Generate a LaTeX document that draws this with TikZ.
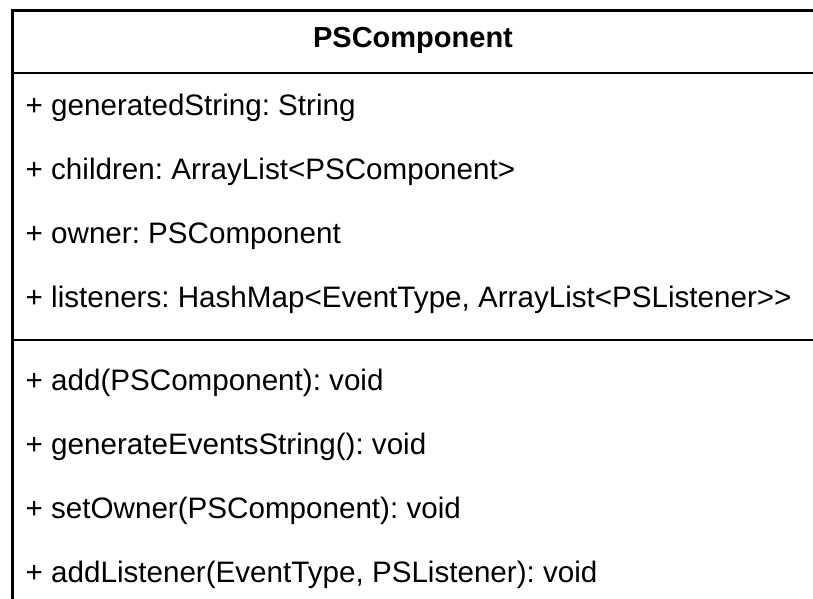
\documentclass[tikz,border=0pt]{standalone}
\usepackage{fontspec}
\setmainfont{Liberation Sans}
\frenchspacing
\begin{document}
\begin{tikzpicture}[x=1pt,y=-1pt,
  member/.style={anchor=base west,inner sep=0pt,font=\fontsize{29.6}{34}\selectfont},
  title/.style={anchor=base,inner sep=0pt,font=\fontsize{29}{34}\selectfont\bfseries},
  frame/.style={draw=black,line width=2.6pt}]
\useasboundingbox (0,0) rectangle (813,599);
\begin{scope}
\clip (0,0) rectangle (813,599);
% class box (continues past the right and bottom edges)
\draw[frame] (12.5,640) -- (12.5,10.5) -- (840,10.5);
\draw[frame] (12.5,73) -- (840,73);
\draw[frame] (12.5,340) -- (840,340);
\end{scope}
% class name
\node[title] (name) at (413,48) {PSComponent};
% attributes
\node[member] (a1) at (25.5,115) {+ generatedString: String};
\node[member] (a2) at (25.5,179) {+ children: ArrayList<PSComponent>};
\node[member] (a3) at (25.5,243) {+ owner: PSComponent};
\node[member] (a4) at (25.5,307) {+ listeners: HashMap<EventType, ArrayList<PSListener>{}>};
% operations
\node[member] (m1) at (25.5,390) {+ add(PSComponent): void};
\node[member] (m2) at (25.5,454) {+ generateEventsString(): void};
\node[member] (m3) at (25.5,518) {+ setOwner(PSComponent): void};
\node[member] (m4) at (25.5,582) {+ addListener(EventType, PSListener): void};
\end{tikzpicture}
\end{document}
